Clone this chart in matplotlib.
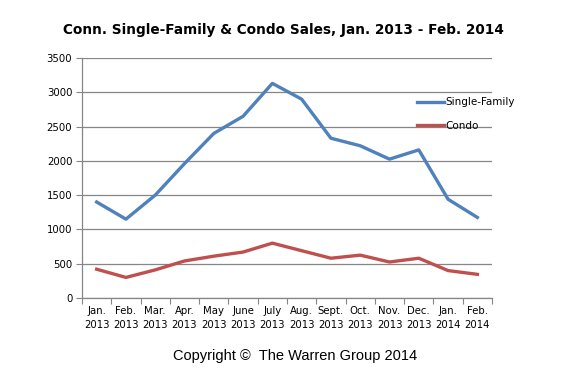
import matplotlib.pyplot as plt
import numpy as np

months = ['Jan.\n2013', 'Feb.\n2013', 'Mar.\n2013', 'Apr.\n2013', 'May\n2013', 'June\n2013',
          'July\n2013', 'Aug.\n2013', 'Sept.\n2013', 'Oct.\n2013', 'Nov.\n2013', 'Dec.\n2013',
          'Jan.\n2014', 'Feb.\n2014']
single_family = [1400, 1150, 1500, 1960, 2400, 2650, 3130, 2900, 2330, 2220, 2025, 2160, 1440, 1175]
condo = [420, 300, 410, 540, 610, 670, 800, 690, 580, 625, 525, 580, 400, 345]

fig = plt.figure(figsize=(5.67, 3.72), dpi=100)
ax = fig.add_axes([82 / 567, 1 - 298 / 372, 410 / 567, 240 / 372])

x = np.arange(len(months))
ax.plot(x, single_family, color='#4F81BD', lw=2.4, label='Single-Family')
ax.plot(x, condo, color='#C0504D', lw=2.4, label='Condo')

ax.set_xlim(-0.5, len(months) - 0.5)
ax.set_ylim(0, 3500)
ax.set_yticks(range(0, 3501, 500))
ax.yaxis.grid(True, color='#868686', lw=0.9)
ax.set_axisbelow(True)

# ticks between categories, labels at centres
ax.set_xticks(np.arange(-0.5, len(months), 1))
ax.set_xticklabels([])
ax.set_xticks(x, minor=True)
ax.set_xticklabels(months, minor=True, fontsize=7.3, linespacing=1.45)
ax.tick_params(axis='x', which='major', direction='out', length=4, color='#868686')
ax.tick_params(axis='x', which='minor', length=0, pad=6)
ax.tick_params(axis='y', direction='out', length=4, color='#868686', labelsize=7.3, pad=3)

for s in ['top', 'right']:
    ax.spines[s].set_visible(False)
for s in ['left', 'bottom']:
    ax.spines[s].set_color('#868686')
    ax.spines[s].set_linewidth(0.9)

leg = ax.legend(loc='upper left', bbox_to_anchor=(0.795, 0.875), frameon=False,
                fontsize=7.5, handlelength=2.6, handletextpad=0.1, labelspacing=1.3)

fig.text(0.5, 1 - 30 / 372, 'Conn. Single-Family & Condo Sales, Jan. 2013 - Feb. 2014',
         ha='center', va='center', fontsize=9.8, fontweight='bold')
fig.text(295 / 567, 1 - 356 / 372, 'Copyright \u00a9  The Warren Group 2014',
         ha='center', va='center', fontsize=10.5, family='Liberation Sans')

fig.savefig('out.png', dpi=100)
